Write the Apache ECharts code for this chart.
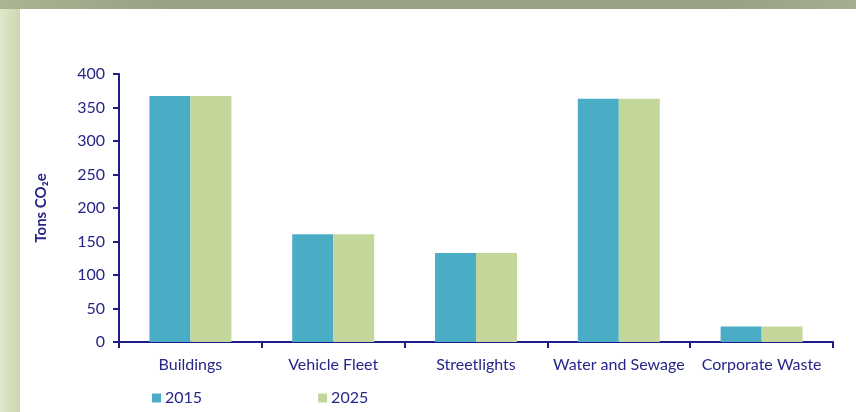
<!DOCTYPE html>
<html><head><meta charset="utf-8">
<script src="https://cdn.jsdelivr.net/npm/echarts@6/dist/echarts.min.js"></script>
<style>
html,body{margin:0;padding:0;width:856px;height:412px;overflow:hidden;background:#fff;}
#left{position:absolute;left:0;top:0;width:20px;height:412px;background:linear-gradient(to right,#e0e7cb,#ccd7af);}
#top{position:absolute;left:0;top:0;width:856px;height:9px;background:linear-gradient(to right,#aab592,#98a086 20%,#98a086 85%,#a6ae92);}
#chart{position:absolute;left:20px;top:9px;width:836px;height:403px;background:#fff;}
</style></head><body>
<div id="left"></div><div id="top"></div>
<div id="chart"></div>
<script>
const categories = ['Buildings','Vehicle Fleet','Streetlights','Water and Sewage','Corporate Waste'];
const values2015 = [367, 161, 133, 363, 23];
const values2025 = [367, 161, 133, 363, 23];
const seriesNames = ['2015','2025'];
const yTicks = [0,50,100,150,200,250,300,350,400];

const navy = '#262688';
const axisNavy = '#1e1e8a';
const chart = echarts.init(document.getElementById('chart'));
chart.setOption({
  animation:false,
  textStyle:{fontFamily:'Lato'},
  grid:{left:99,right:23,top:65,bottom:70},
  legend:{
    left:127, top:376, itemWidth:9, itemHeight:9, itemGap:116,
    icon:'rect',
    textStyle:{color:navy,fontSize:16,fontFamily:'Lato',padding:[0,0,0,-1]},
    data:seriesNames
  },
  xAxis:{
    type:'category', data:categories,
    axisLine:{lineStyle:{color:axisNavy,width:2}},
    axisTick:{show:true,interval:0,length:6,lineStyle:{color:axisNavy,width:2},alignWithLabel:false},
    axisLabel:{interval:0,color:navy,fontSize:16,margin:15,fontFamily:'Lato'}
  },
  yAxis:{
    type:'value', min:yTicks[0], max:yTicks[yTicks.length-1], interval:50,
    name:'Tons CO₂e', nameLocation:'middle', nameGap:70, nameRotate:90,
    nameTextStyle:{color:navy,fontSize:15,fontWeight:'bold',fontFamily:'Lato'},
    axisLine:{show:true,lineStyle:{color:axisNavy,width:2}},
    axisTick:{show:true,length:6,lineStyle:{color:axisNavy,width:2}},
    axisLabel:{color:navy,fontSize:16,margin:14,fontFamily:'Lato'},
    splitLine:{show:false}
  },
  series:[
    {name:seriesNames[0],type:'bar',data:values2015,barGap:'0%',barCategoryGap:'42.6%',itemStyle:{color:'#4bacc6'}},
    {name:seriesNames[1],type:'bar',data:values2025,barGap:'0%',barCategoryGap:'42.6%',itemStyle:{color:'#c4d79b'}}
  ]
});
</script>
</body></html>
